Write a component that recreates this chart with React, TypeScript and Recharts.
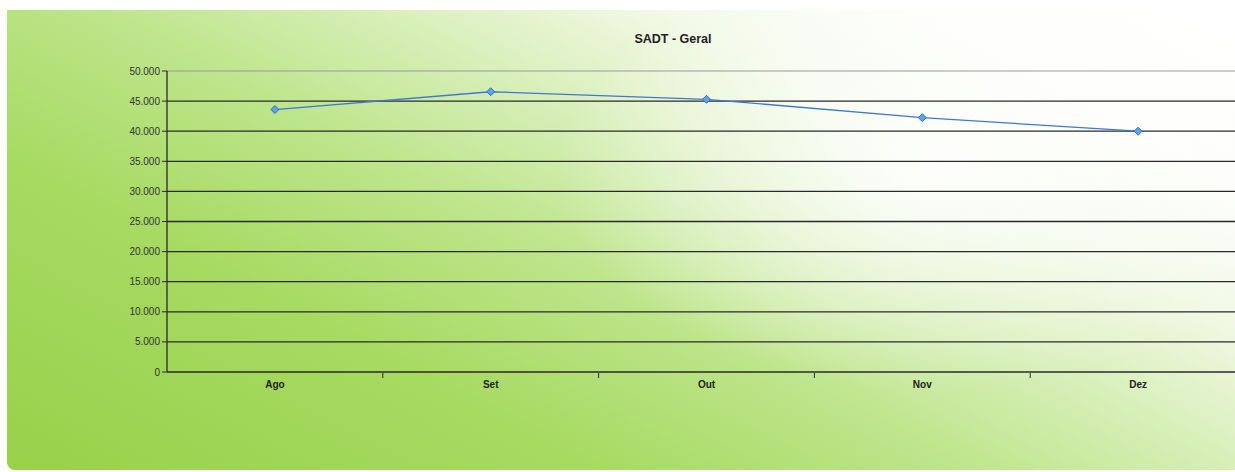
import { LineChart, Line, XAxis, YAxis, CartesianGrid, ReferenceLine } from "recharts";

const months = ["Ago", "Set", "Out", "Nov", "Dez"];
const sadtValues = [43600, 46550, 45300, 42250, 40000];
const yTicks = [0, 5000, 10000, 15000, 20000, 25000, 30000, 35000, 40000, 45000, 50000];
const innerGrid = [5000, 10000, 15000, 20000, 25000, 30000, 35000, 40000, 45000];
// category centres sit on .5, band edges on whole numbers
const xTicks = [0.5, 1, 1.5, 2, 2.5, 3, 3.5, 4, 4.5];

const data = months.map((m, i) => ({ month: m, pos: i + 0.5, sadt: sadtValues[i] }));

const fmt = (v: number) => String(v).replace(/\B(?=(\d{3})+(?!\d))/g, ".");

function Diamond(props: any) {
  const { cx, cy } = props;
  if (cx == null || cy == null) return null;
  const r = 4;
  return (
    <polygon
      points={`${cx},${cy - r} ${cx + r},${cy} ${cx},${cy + r} ${cx - r},${cy}`}
      fill="#5fa2e8"
      stroke="#2f6fc4"
      strokeWidth={1}
    />
  );
}

function MonthTick(props: any) {
  const { x, y, payload } = props;
  const v = payload.value;
  if (Number.isInteger(v)) {
    // band boundary: only a small tick mark
    return <line x1={x} x2={x} y1={y - 1} y2={y + 4} stroke="#2a2a2a" strokeWidth={1} />;
  }
  return (
    <text x={x} y={y + 14} textAnchor="middle" fontSize={10} fontWeight="bold" fill="#222">
      {months[Math.floor(v)]}
    </text>
  );
}

export default function App() {
  return (
    <div
      style={{
        position: "fixed",
        left: 0,
        top: 0,
        width: 1235,
        height: 472,
        overflow: "hidden",
        background: "#ffffff",
        fontFamily: "'Liberation Sans', Arial, sans-serif",
      }}
    >
      <div
        style={{
          position: "absolute",
          left: 7,
          top: 10,
          width: 1240,
          height: 460,
          borderBottomLeftRadius: 8,
          background:
            "radial-gradient(ellipse 380px 220px at 930px 160px, rgba(255,255,255,0.9) 0%, rgba(255,255,255,0) 100%), linear-gradient(28deg, #98d14a 0%, #a7da62 28%, #bde58a 45%, #daf0bd 60%, #f2f9e6 72%, #fdfefb 84%, #ffffff 100%)",
        }}
      />
      <div
        style={{
          position: "absolute",
          left: 0,
          width: 1346,
          top: 32,
          textAlign: "center",
          fontSize: 12.5,
          fontWeight: "bold",
          color: "#222",
        }}
      >
        SADT - Geral
      </div>
      <div style={{ position: "absolute", left: 0, top: 0 }}>
        <LineChart
          width={1300}
          height={472}
          data={data}
          margin={{ top: 71, right: 54, left: 107, bottom: 70 }}
        >
          <CartesianGrid
            vertical={false}
            horizontalValues={innerGrid}
            stroke="#2a2a2a"
            strokeWidth={1.3}
          />
          <ReferenceLine y={50000} stroke="#9a9a9a" strokeWidth={1} />
          <XAxis
            dataKey="pos"
            type="number"
            domain={[0, 5]}
            ticks={xTicks}
            interval={0}
            tick={<MonthTick />}
            tickLine={false}
            tickSize={0}
            axisLine={{ stroke: "#2a2a2a", strokeWidth: 1.3 }}
            height={30}
          />
          <YAxis
            domain={[0, 50000]}
            ticks={yTicks}
            tickFormatter={fmt}
            tickSize={5}
            width={60}
            interval={0}
            axisLine={{ stroke: "#2a2a2a", strokeWidth: 1.3 }}
            tickLine={{ stroke: "#2a2a2a" }}
            tick={{ fontSize: 10, fill: "#333" }}
          />
          <Line
            dataKey="sadt"
            type="linear"
            stroke="#3f78d0"
            strokeWidth={1.3}
            dot={<Diamond />}
            isAnimationActive={false}
          />
        </LineChart>
      </div>
    </div>
  );
}
